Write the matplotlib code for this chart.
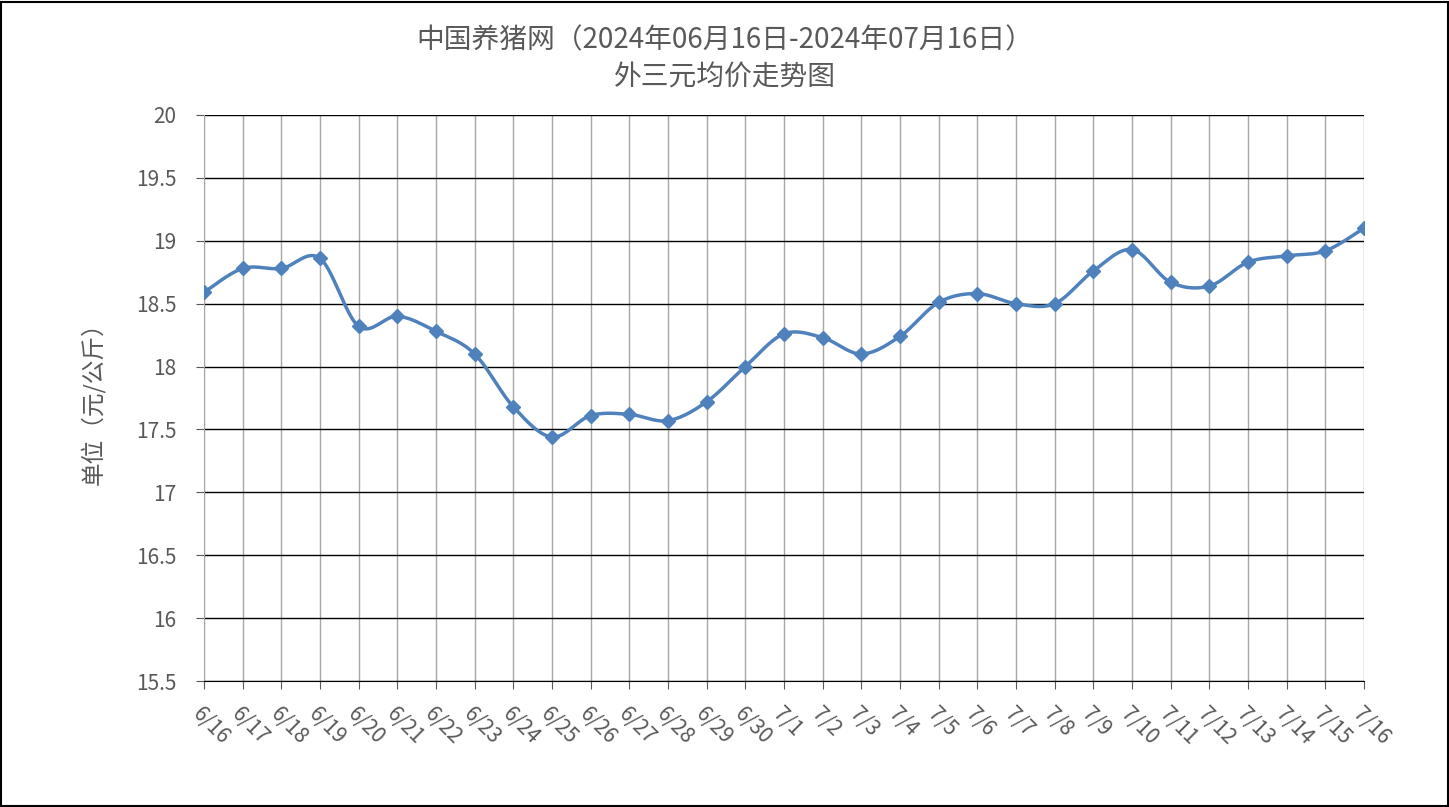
import numpy as np
import matplotlib.pyplot as plt

plt.rcParams['font.family'] = ['Noto Sans CJK SC', 'DejaVu Sans']

dates = ['6/16', '6/17', '6/18', '6/19', '6/20', '6/21', '6/22', '6/23', '6/24', '6/25',
         '6/26', '6/27', '6/28', '6/29', '6/30', '7/1', '7/2', '7/3', '7/4', '7/5',
         '7/6', '7/7', '7/8', '7/9', '7/10', '7/11', '7/12', '7/13', '7/14', '7/15', '7/16']
prices = [18.59, 18.78, 18.78, 18.86, 18.32, 18.40, 18.28, 18.10, 17.68, 17.44,
          17.61, 17.62, 17.57, 17.72, 18.00, 18.26, 18.23, 18.10, 18.24, 18.51,
          18.58, 18.50, 18.50, 18.76, 18.93, 18.67, 18.64, 18.83, 18.88, 18.92, 19.10]
yticks = [15.5, 16, 16.5, 17, 17.5, 18, 18.5, 19, 19.5, 20]
ylabels = ['15.5', '16', '16.5', '17', '17.5', '18', '18.5', '19', '19.5', '20']


def smooth(x, y, n=20):
    # catmull-rom style smoothing like the spreadsheet's smoothed line
    x = np.asarray(x, float); y = np.asarray(y, float)
    px = np.concatenate([[x[0]], x, [x[-1]]])
    py = np.concatenate([[y[0]], y, [y[-1]]])
    xs, ys = [], []
    t = np.linspace(0, 1, n, endpoint=False)
    for i in range(1, len(px) - 2):
        for p, out in ((px, xs), (py, ys)):
            p0, p1, p2, p3 = p[i - 1], p[i], p[i + 1], p[i + 2]
            out.extend(0.5 * ((2 * p1) + (-p0 + p2) * t + (2 * p0 - 5 * p1 + 4 * p2 - p3) * t ** 2
                              + (-p0 + 3 * p1 - 3 * p2 + p3) * t ** 3))
    xs.append(x[-1]); ys.append(y[-1])
    return xs, ys


fig = plt.figure(figsize=(14.49, 8.07), dpi=100)
ax = fig.add_axes([204 / 1449, 1 - 681 / 807, 1160 / 1449, 566 / 807])
fig.patches.append(plt.Rectangle((0.001, 0.001), 0.998, 0.997, transform=fig.transFigure,
                                 fill=False, edgecolor='black', linewidth=1.5))

x = np.arange(len(dates))
sx, sy = smooth(x, prices)
ax.plot(sx, sy, color='#4f81bd', linewidth=2.5, zorder=3)
ax.plot(x, prices, linestyle='none', marker='D', markersize=7, color='#4f81bd', zorder=4)

ax.set_xlim(0, len(dates) - 1)
ax.set_ylim(15.5, 20)
ax.set_yticks(yticks)
ax.set_yticklabels(ylabels)
ax.set_xticks(x)
ax.set_xticklabels(dates, rotation=-45, ha='left', va='top', rotation_mode='anchor')
for v in x:
    ax.axvline(v, color='#a6a6a6', linewidth=1, zorder=1)
for v in yticks:
    ax.axhline(v, color='black', linewidth=1, zorder=1)
ax.tick_params(axis='both', labelsize=15, colors='#595959', length=6)
ax.tick_params(axis='x', pad=10)
ax.tick_params(axis='y', pad=14)
for s in ['top', 'right']:
    ax.spines[s].set_visible(False)
ax.spines['left'].set_color('#a6a6a6')
ax.spines['bottom'].set_color('black')

ax.set_ylabel('单位（元/公斤）', fontsize=17, color='#595959', labelpad=22)
fig.text(0.5, 1 - 40 / 807, '中国养猪网（2024年06月16日-2024年07月16日）', ha='center', va='center',
         fontsize=20, color='#595959')
fig.text(0.5, 1 - 78 / 807, '外三元均价走势图', ha='center', va='center', fontsize=20, color='#595959')

fig.savefig('out.png', dpi=100)
